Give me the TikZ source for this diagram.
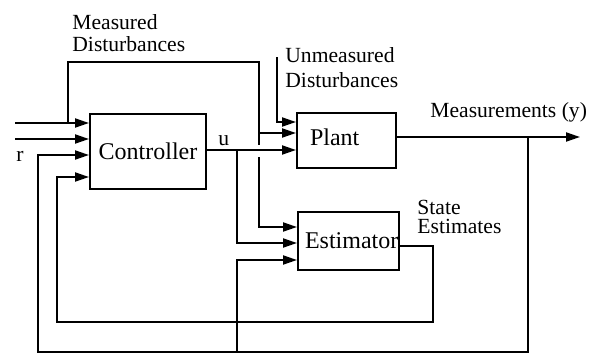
\documentclass[tikz,border=0pt]{standalone}
\usepackage{fontspec}
\setmainfont{Liberation Serif}
\usetikzlibrary{arrows.meta}
\tikzset{
  box/.style={draw, line width=1pt, inner sep=0pt, font=\fontsize{12}{14}\selectfont},
  conn/.style={line width=1pt},
  arr/.style={conn, -{Triangle[length=7pt,width=4.5pt]}},
  lbl/.style={inner sep=0pt, anchor=base west, align=left, font=\fontsize{10.8}{12}\selectfont}
}
\begin{document}
\begin{tikzpicture}[x=0.5pt,y=-0.5pt]
\useasboundingbox (0,0) rectangle (595,354);
% blocks
\node[box, minimum width=58pt, minimum height=37.5pt] (ctrl) at (148,151.5) {Controller};
\node[box, minimum width=49.5pt, minimum height=27.5pt, text width=36.5pt, inner xsep=6.5pt, align=left, text depth=3.6pt] (plant) at (346.5,140.5) {Plant};
\node[box, minimum width=50.5pt, minimum height=29pt, text width=43.5pt, inner xsep=3.5pt, align=left] (est) at (348.5,241) {Estimator};
% labels (anchor = baseline of last line)
\node[lbl, font=\fontsize{10.8}{11}\selectfont] (mdlbl) at (72,51) {Measured\\Disturbances};
\node[lbl, font=\fontsize{10.8}{12.5}\selectfont] (udlbl) at (285,87) {Unmeasured\\Disturbances};
\node[lbl] (ylbl) at (430,117) {Measurements (y)};
\node[lbl, font=\fontsize{10.8}{9.5}\selectfont] (selbl) at (417,233) {State\\Estimates};
\node[lbl] (ulbl) at (218,145) {u};
\node[lbl] (rlbl) at (16,161) {r};
% external inputs
\coordinate (in1) at (15,123);
\coordinate (in2) at (15,139);
\draw[arr] (in1) -- (in1 -| ctrl.west);
\draw[arr] (in2) -- (in2 -| ctrl.west);
% measured disturbances
\coordinate (mdL) at (68,123);
\coordinate (md1) at (68,62);
\coordinate (md2) at (259,62);
\coordinate (md3) at (259,145);
\coordinate (md4) at (259,157);
\coordinate (mdP) at (259,133);
\coordinate (mdE) at (259,227);
\draw[conn] (mdL) -- (md1) -- (md2) -- (md3);
\draw[arr] (mdP) -- (mdP -| plant.west);
\draw[arr] (md4) -- (mdE) -- (mdE -| est.west);
% unmeasured disturbances
\coordinate (ud1) at (277,57);
\coordinate (ud2) at (277,122);
\draw[arr] (ud1) -- (ud2) -- (ud2 -| plant.west);
% control signal u
\coordinate (uB) at (237,150);
\coordinate (uE) at (237,243);
\draw[arr] (uB -| ctrl.east) -- (uB -| plant.west);
\draw[arr] (uB) -- (uE) -- (uE -| est.west);
% measurements y
\coordinate (yB) at (528,137);
\coordinate (yEnd) at (580,137);
\coordinate (yD) at (528,352);
\coordinate (yL) at (38,352);
\coordinate (yU) at (38,155);
\coordinate (yE1) at (237,352);
\coordinate (yE2) at (237,260);
\draw[arr] (yB -| plant.east) -- (yEnd);
\draw[arr] (yB) -- (yD) -- (yL) -- (yU) -- (yU -| ctrl.west);
\draw[arr] (yE1) -- (yE2) -- (yE2 -| est.west);
% state estimates
\coordinate (s1) at (433,246);
\coordinate (s2) at (433,322);
\coordinate (s3) at (57,322);
\coordinate (s4) at (57,177);
\draw[arr] (s1 -| est.east) -- (s1) -- (s2) -- (s3) -- (s4) -- (s4 -| ctrl.west);
\end{tikzpicture}
\end{document}
